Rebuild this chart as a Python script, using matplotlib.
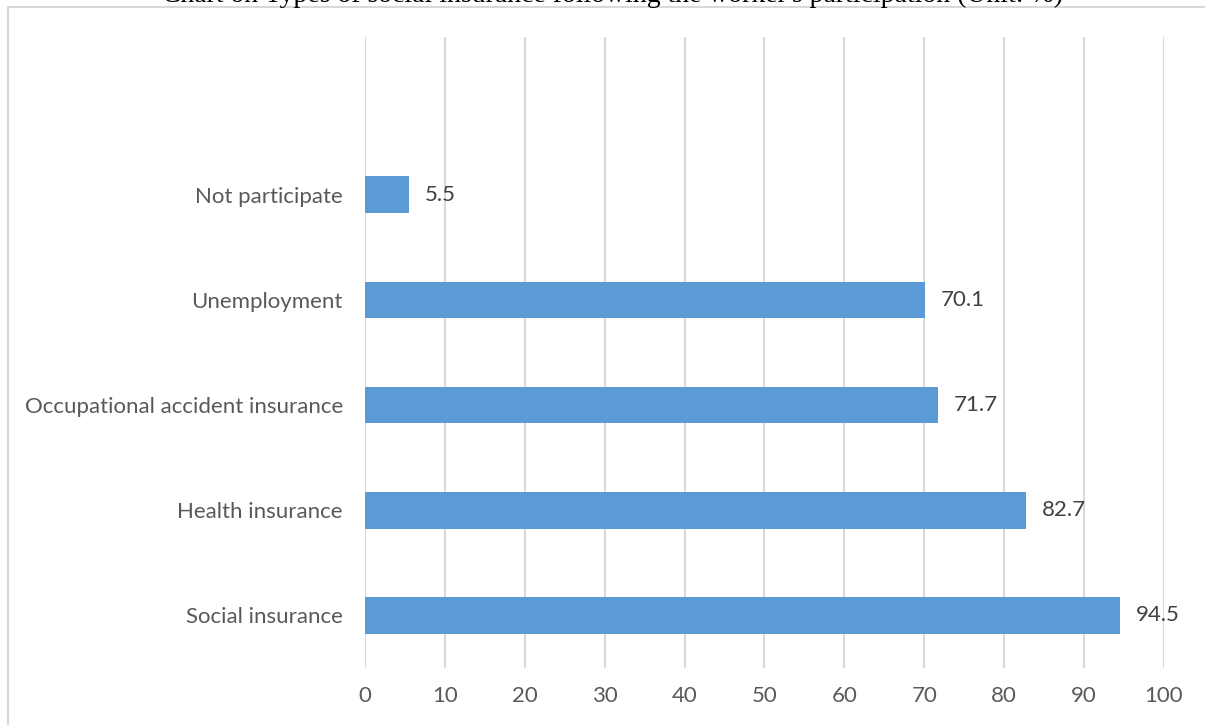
import matplotlib
matplotlib.use("Agg")
import matplotlib.pyplot as plt
from matplotlib.patches import Rectangle

categories = ["Social insurance", "Health insurance", "Occupational accident insurance",
              "Unemployment", "Not participate"]
values = [94.5, 82.7, 71.7, 70.1, 5.5]
xticks = [0, 10, 20, 30, 40, 50, 60, 70, 80, 90, 100]
title = "Chart on Types of social insurance following the worker's participation (Unit: %)"

W, H = 1205, 725
fig = plt.figure(figsize=(W / 100, H / 100), dpi=100)
fig.patch.set_facecolor("white")

FONT = "Lato"
FS = 16

# outer chart border (partially cropped)
fig.patches.append(Rectangle((8 / W, -0.05), 1.2, 1 - 7 / H + 0.05,
                             transform=fig.transFigure, fill=False,
                             edgecolor="#D9D9D9", linewidth=1.5))

x0, x1 = 365, 1164
y_top, y_bot = 37, 668
ax = fig.add_axes([x0 / W, 1 - y_bot / H, (x1 - x0) / W, (y_bot - y_top) / H])

pos = list(range(len(categories)))
ax.barh(pos, values, height=0.35, color="#5B9BD5", zorder=3)
for p, v in zip(pos, values):
    ax.text(v + 2.0, p, f"{v}", va="center", ha="left", fontsize=FS,
            color="#404040", family=FONT)

ax.set_xlim(0, 100)
ax.set_ylim(-0.5, len(categories) + 0.5)
ax.set_xticks(xticks)
ax.set_xticklabels([str(t) for t in xticks])
ax.set_yticks(pos)
ax.set_yticklabels(categories)
ax.xaxis.grid(True, color="#D9D9D9", linewidth=1.5, zorder=0)
ax.yaxis.grid(False)
for s in ax.spines.values():
    s.set_visible(False)
ax.tick_params(axis="both", length=0, colors="#595959", labelsize=FS)
ax.tick_params(axis="x", pad=13)
ax.tick_params(axis="y", pad=16)
for lab in ax.get_xticklabels() + ax.get_yticklabels():
    lab.set_family(FONT)
    lab.set_color("#595959")

fig.text(613 / W, 1 - 1.5 / H, title, ha="center", va="baseline",
         fontsize=20, family="Liberation Serif", color="black")

fig.savefig("out.png", dpi=100, facecolor="white")
